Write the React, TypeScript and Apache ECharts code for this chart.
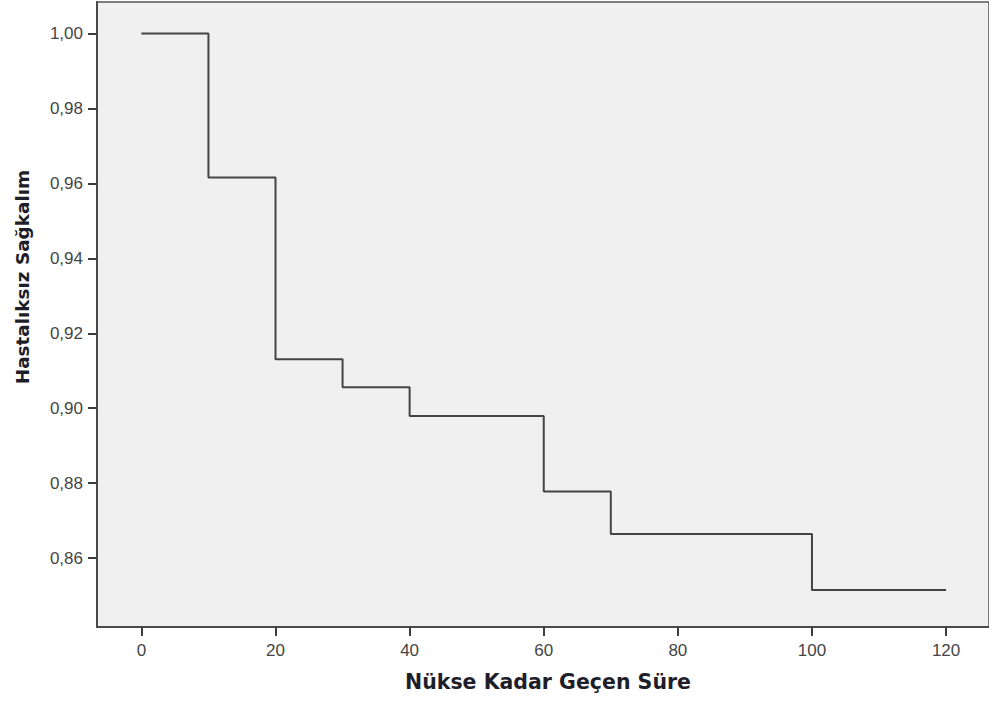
import React, { useEffect, useRef } from "react";
import * as echarts from "echarts";

const times = [0, 10, 20, 30, 40, 60, 70, 100, 120];
const survival = [1.0, 0.9616, 0.9131, 0.9056, 0.8979, 0.8778, 0.8664, 0.8515, 0.8515];
const xTicks = [0, 20, 40, 60, 80, 100, 120];
const yTicks = [0.86, 0.88, 0.9, 0.92, 0.94, 0.96, 0.98, 1.0];
const xTitle = "Nükse Kadar Geçen Süre";
const yTitle = "Hastalıksız Sağkalım";

export default function App() {
  const ref = useRef<HTMLDivElement>(null);
  useEffect(() => {
    if (!ref.current) return;
    const chart = echarts.init(ref.current, null, { renderer: "svg" });
    const labelStyle = {
      color: "#454545",
      fontFamily: "Liberation Sans",
      fontSize: 17,
    };
    const tickStyle = { color: "#3c3c3c", width: 2 };
    chart.setOption({
      animation: false,
      backgroundColor: "#ffffff",
      grid: {
        left: 97,
        top: 2,
        width: 893,
        height: 625,
        show: true,
        backgroundColor: "#f0f0f0",
        borderColor: "#555555",
        borderWidth: 1.5,
      },
      xAxis: {
        type: "value",
        min: -6.62,
        max: 126.4,
        axisLine: { show: true, onZero: false, lineStyle: { color: "#4a4a4a", width: 2 } },
        axisTick: {
          show: true,
          customValues: xTicks,
          length: 9,
          lineStyle: tickStyle,
        },
        axisLabel: {
          customValues: xTicks,
          margin: 15,
          ...labelStyle,
          formatter: (v: number) => String(v),
        },
        splitLine: { show: false },
      },
      yAxis: {
        type: "value",
        min: 0.8416,
        max: 1.00843,
        axisLine: { show: true, onZero: false, lineStyle: { color: "#4a4a4a", width: 2 } },
        axisTick: {
          show: true,
          customValues: yTicks,
          length: 9,
          lineStyle: tickStyle,
        },
        axisLabel: {
          customValues: yTicks,
          margin: 14,
          ...labelStyle,
          formatter: (v: number) => v.toFixed(2).replace(".", ","),
        },
        splitLine: { show: false },
      },
      graphic: [
        {
          type: "text",
          x: 548,
          y: 682,
          style: {
            text: xTitle,
            align: "center",
            verticalAlign: "middle",
            font: "bold 20.5px 'DejaVu Sans'",
            fill: "#1e1e2a",
          },
        },
        {
          type: "text",
          x: 22,
          y: 277,
          rotation: Math.PI / 2,
          style: {
            text: yTitle,
            align: "center",
            verticalAlign: "middle",
            font: "bold 18.4px 'DejaVu Sans'",
            fill: "#1e1e2a",
          },
        },
      ],
      series: [
        {
          type: "line",
          step: "end",
          data: times.map((t, i) => [t, survival[i]]),
          showSymbol: false,
          symbol: "none",
          lineStyle: { color: "#444444", width: 2 },
        },
      ],
    });
    return () => chart.dispose();
  }, []);
  return (
    <div
      ref={ref}
      style={{ position: "fixed", left: 0, top: 0, width: 989, height: 701 }}
    />
  );
}
